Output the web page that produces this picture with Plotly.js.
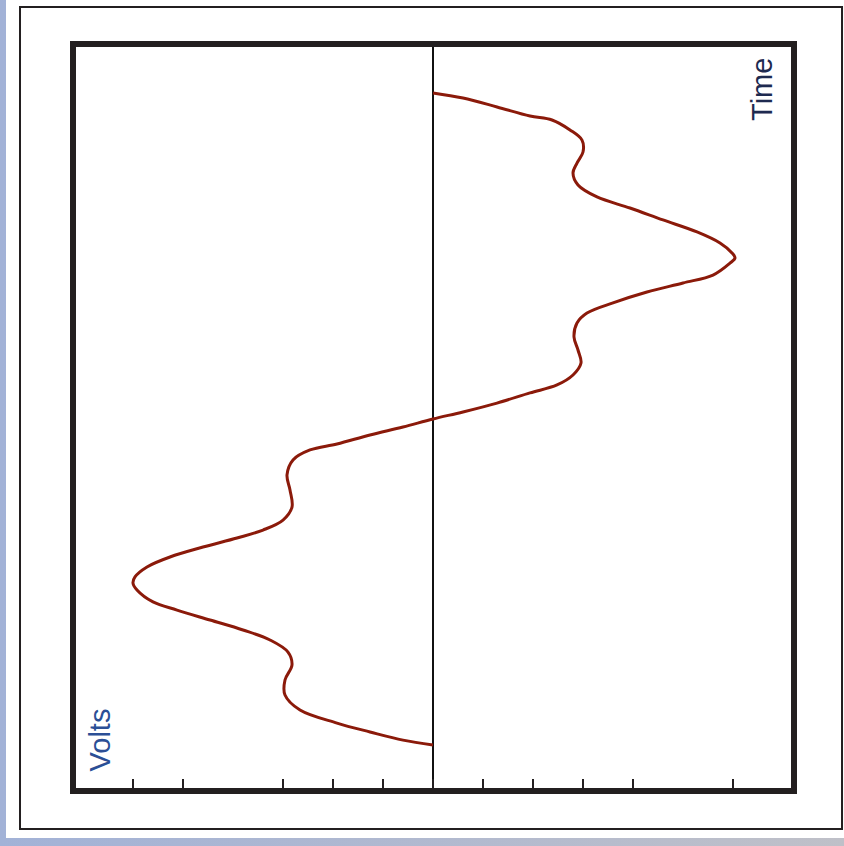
<!DOCTYPE html>
<html>
<head>
<meta charset="utf-8">
<script src="https://cdn.plot.ly/plotly-3.0.1.min.js"></script>
<style>
  html, body { margin: 0; padding: 0; width: 844px; height: 846px; overflow: hidden;
    background: linear-gradient(to right, #a2b2d7, #bfc0c8); }
  #chart { position: absolute; left: 6px; top: 0px; width: 838px; height: 838px; background: #ffffff; }
</style>
</head>
<body>
<div id="chart"></div>
<script>
// Time (degrees of one cycle) and voltage
const timeDeg = [0, 2.8, 7.7, 12.7, 14.9, 20.4, 26.0, 32.6, 38.7, 44.2,
  50.8, 57.4, 63.5, 70.1, 76.7, 82.8, 88.3, 91.1, 93.9, 100.5,
  104.9, 109.9, 115.9, 121.5, 127.0, 134.7, 141.9, 149.1, 155.7, 161.2,
  165.6, 171.2, 176.1, 180.0, 184.4, 188.8, 193.8, 197.1, 202.6, 210.9,
  219.2, 228.6, 235.8, 241.3, 245.7, 250.7, 256.2, 261.7, 267.2, 270.6,
  274.4, 281.0, 285.5, 291.0, 296.5, 302.0, 308.7, 315.8, 324.1, 332.4,
  340.7, 347.9, 352.8, 357.3, 360];
const volts = [0, 0.6, 1.28, 1.94, 2.38, 2.74, 2.98, 3.0, 2.88, 2.8,
  2.9, 3.28, 3.94, 4.6, 5.28, 5.74, 5.98, 6.04, 5.94, 5.6,
  5.0, 4.28, 3.6, 3.08, 2.88, 2.82, 2.9, 2.96, 2.8, 2.48,
  1.94, 1.28, 0.6, 0, -0.6, -1.26, -1.92, -2.46, -2.8, -2.92,
  -2.86, -2.82, -3.0, -3.4, -3.92, -4.6, -5.26, -5.72, -5.96, -6.0,
  -5.92, -5.6, -5.12, -4.46, -3.8, -3.26, -2.9, -2.82, -2.96, -2.96,
  -2.66, -1.92, -1.26, -0.6, 0];
const voltTicks = [-6, -5, -3, -2, -1, 0, 1, 2, 3, 4, 6];
const xLabel = "Volts";
const yLabel = "Time";

const labelFont = { family: "'Liberation Sans', Arial, sans-serif", size: 29, color: "#2b4f96" };

const trace = {
  x: volts, y: timeDeg, type: "scatter", mode: "lines",
  line: { color: "#8b1a0a", width: 3, shape: "spline", smoothing: 1 },
  hoverinfo: "skip"
};

const layout = {
  width: 838, height: 838,
  margin: { l: 67, r: 50, t: 44, b: 47, pad: 0 },
  paper_bgcolor: "#ffffff", plot_bgcolor: "#ffffff",
  showlegend: false,
  xaxis: {
    range: [-7.2, 7.22], showgrid: false, showline: false,
    zeroline: true, zerolinecolor: "#111111", zerolinewidth: 2,
    tickmode: "array", tickvals: voltTicks, ticks: "inside", ticklen: 12, tickwidth: 2, tickcolor: "#231f20",
    showticklabels: false, fixedrange: true
  },
  yaxis: {
    range: [385.4, -27.06], showgrid: false, showline: false, zeroline: false,
    ticks: "", showticklabels: false, fixedrange: true
  },
  shapes: [
    { type: "rect", xref: "paper", yref: "paper", x0: 0, x1: 1, y0: 0, y1: 1,
      line: { color: "#231f20", width: 6 }, fillcolor: "rgba(0,0,0,0)" },
    { type: "rect", xref: "paper", yref: "paper", x0: -0.0735, x1: 1.0666, y0: -0.0509, y1: 1.0495,
      line: { color: "#231f20", width: 2 }, fillcolor: "rgba(0,0,0,0)" }
  ],
  annotations: [
    { text: xLabel, xref: "paper", yref: "paper", x: 0.0381, y: 0.0683, xanchor: "center", yanchor: "middle",
      textangle: -90, showarrow: false, font: labelFont },
    { text: yLabel, xref: "paper", yref: "paper", x: 0.9556, y: 0.9398, xanchor: "center", yanchor: "middle",
      textangle: -90, showarrow: false, font: Object.assign({}, labelFont, { color: "#1e2a50" }) }
  ]
};

Plotly.newPlot("chart", [trace], layout, { displayModeBar: false, staticPlot: true });
</script>
</body>
</html>
